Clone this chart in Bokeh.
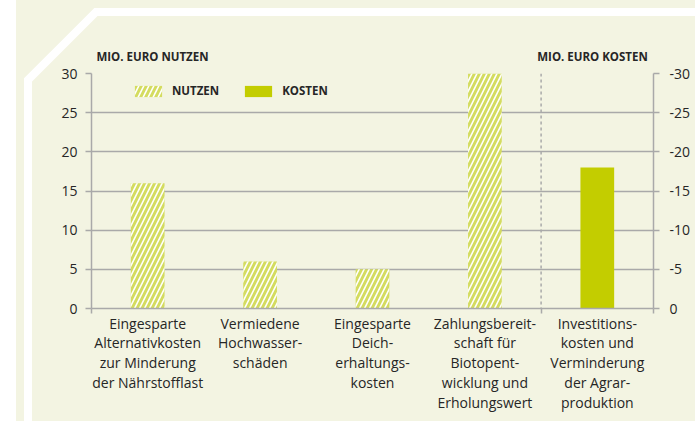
from urllib.parse import quote
from bokeh.plotting import figure
from bokeh.models import (FixedTicker, LinearAxis, Range1d, Span, Legend,
                          LegendItem, InlineStyleSheet)
from bokeh.embed import file_html
from bokeh.resources import INLINE

# ---- data ----
categories = [
    "Eingesparte\nAlternativkosten\nzur Minderung\nder Nährstofflast",
    "Vermiedene\nHochwasser-\nschäden",
    "Eingesparte\nDeich-\nerhaltungs-\nkosten",
    "Zahlungsbereit-\nschaft für\nBiotopent-\nwicklung und\nErholungswert",
    "Investitions-\nkosten und\nVerminderung\nder Agrar-\nproduktion",
]
nutzen = [16, 6, 5, 30]          # Mio. Euro Nutzen (first four categories)
kosten = [18]                    # Mio. Euro Kosten (last category)
y_ticks = [0, 5, 10, 15, 20, 25, 30]
right_tick_labels = ["0", "-5", "-10", "-15", "-20", "-25", "-30"]
left_title = "MIO. EURO NUTZEN"
right_title = "MIO. EURO KOSTEN"
legend_labels = ["NUTZEN", "KOSTEN"]

# ---- style ----
BG = "rgb(243,244,226)"
GRID = "#a9a9a9"
TXT = "#262626"
HATCH_FILL = "#d4dc60"
SOLID = "#c3cd00"
FONT = "Open Sans"

W, H = 695, 421
FL, FT = 91, 73
FW, FH = 562, 235
FR, FB = W - FL - FW, H - FT - FH

n_cat = len(categories)
p = figure(width=W, height=H, output_backend="svg", toolbar_location=None,
           x_range=Range1d(0, n_cat), y_range=Range1d(y_ticks[0], y_ticks[-1]),
           min_border_left=FL, min_border_right=FR, min_border_top=FT,
           min_border_bottom=FB, background_fill_alpha=0, border_fill_alpha=0,
           outline_line_color=None)

# page background with the white decorative frame (pure styling)
deco = ("<svg xmlns='http://www.w3.org/2000/svg' width='%d' height='%d'>"
        "<rect width='16' height='%d' fill='white'/>"
        "<polyline points='%d,12 96,12 28,80 28,%d' fill='none' stroke='white' "
        "stroke-width='8'/></svg>") % (W, H, H, W + 10, H + 10)
p.stylesheets = [InlineStyleSheet(css=(
    ":host { background-color: %s; background-image: url(\"data:image/svg+xml;utf8,%s\");"
    " background-repeat: no-repeat; }") % (BG, quote(deco)))]

# bars
x_n = [i + 0.5 for i in range(len(nutzen))]
x_k = [len(nutzen) + i + 0.5 for i in range(len(kosten))]
r1 = p.vbar(x=x_n, top=nutzen, width=0.3, fill_color=HATCH_FILL, line_color=None,
            hatch_pattern="/", hatch_color="white", hatch_scale=10, hatch_weight=1.6)
r2 = p.vbar(x=x_k, top=kosten, width=0.3, fill_color=SOLID, line_color=None)

# divider between benefits and costs
p.add_layout(Span(location=len(nutzen), dimension="height", line_color=GRID,
                  line_dash="3 3", line_width=1.5))

# grid
p.xgrid.visible = False
p.ygrid.ticker = FixedTicker(ticks=y_ticks, minor_ticks=[])
p.ygrid.grid_line_color = GRID
p.ygrid.grid_line_width = 1.5

# x axis (category labels)
xa = p.xaxis[0]
xa.ticker = FixedTicker(ticks=[i + 0.5 for i in range(n_cat)],
                        minor_ticks=[0, len(nutzen), n_cat])
xa.major_label_overrides = {i + 0.5: categories[i] for i in range(n_cat)}
xa.major_tick_out = 0
xa.major_tick_in = 0
xa.minor_tick_out = 5
xa.minor_tick_in = 0
xa.minor_tick_line_color = GRID
xa.minor_tick_line_width = 1.5
xa.axis_line_color = GRID
xa.axis_line_width = 1.5
xa.major_label_text_font = FONT
xa.major_label_text_font_size = "14px"
xa.major_label_text_line_height = 1.05
xa.major_label_text_color = TXT
xa.major_label_standoff = 0

def style_y(ax):
    ax.major_tick_out = 6
    ax.major_tick_in = 0
    ax.minor_tick_out = 0
    ax.minor_tick_in = 0
    ax.major_tick_line_color = GRID
    ax.major_tick_line_width = 1.5
    ax.axis_line_color = GRID
    ax.axis_line_width = 1.5
    ax.major_label_text_font = FONT
    ax.major_label_text_font_size = "14px"
    ax.major_label_text_color = TXT

ya = p.yaxis[0]
ya.ticker = FixedTicker(ticks=y_ticks, minor_ticks=[])
style_y(ya)
ya.major_label_standoff = 8

ra = LinearAxis(ticker=FixedTicker(ticks=y_ticks, minor_ticks=[]),
                major_label_overrides={t: l for t, l in zip(y_ticks, right_tick_labels)})
style_y(ra)
ra.major_label_standoff = 10
p.add_layout(ra, "right")

# axis titles, set on a label-only axis above the frame
px_x = FW / n_cat
title_w = 120  # approximate rendered width of the titles, px
tx_left = (1 + title_w / 2) / px_x
tx_right = n_cat - (1 + title_w / 2) / px_x
ta = LinearAxis(ticker=FixedTicker(ticks=[tx_left, tx_right], minor_ticks=[]),
                major_label_overrides={tx_left: left_title, tx_right: right_title},
                axis_line_color=None, major_tick_line_color=None,
                minor_tick_line_color=None, major_tick_out=0, major_tick_in=0,
                major_label_standoff=10, major_label_text_font=FONT,
                major_label_text_font_style="bold",
                major_label_text_font_size="11.5px", major_label_text_color=TXT)
p.add_layout(ta, "above")

# legend
legend = Legend(items=[LegendItem(label=legend_labels[0], renderers=[r1]),
                       LegendItem(label=legend_labels[1], renderers=[r2])],
                orientation="horizontal", location=(40, FH - 11 - 14),
                glyph_width=34, glyph_height=14, label_height=14,
                label_standoff=7, spacing=22, padding=0, margin=0,
                border_line_color=None, background_fill_alpha=0,
                label_text_font=FONT, label_text_font_style="bold",
                label_text_font_size="11.5px", label_text_color=TXT)
p.add_layout(legend)

open("out.html", "w").write(file_html(p, INLINE))
